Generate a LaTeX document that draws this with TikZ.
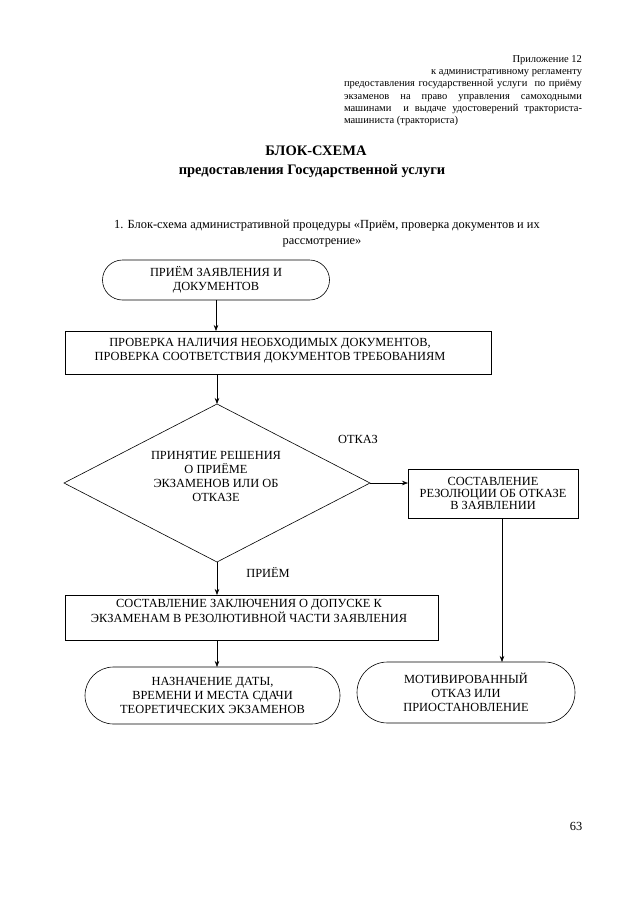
\documentclass[tikz,border=0pt]{standalone}
\usepackage{fontspec}
\setmainfont{Liberation Serif}
\newfontfamily\tnr{Liberation Serif}
\usetikzlibrary{shapes.geometric,shapes.misc,arrows.meta}
\begin{document}
\begin{tikzpicture}[x=1pt,y=-1pt,
  every node/.style={inner sep=0pt,outer sep=0pt},
  boxfont/.style={font=\tnr\fontsize{12.4}{13.8}\selectfont,align=center},
  hdr/.style={font=\tnr\fontsize{10.5}{12}\selectfont,anchor=base east},
  hdrj/.style={font=\tnr\fontsize{10.5}{12}\selectfont,anchor=base west},
  proc/.style={draw,line width=0.6pt,rectangle,boxfont},
  term/.style={draw,line width=0.6pt,rounded rectangle,boxfont},
  dec/.style={draw,line width=0.6pt,diamond,aspect=2,boxfont},
  arr/.style={line width=0.6pt,-{Stealth[length=6pt,width=4.5pt]}},
  lin/.style={line width=0.6pt}]
\useasboundingbox (0,0) rectangle (640,905);
\fill[white] (0,0) rectangle (640,905);
% header
\node[hdr] (h1) at (582,62.5) {Приложение 12};
\node[hdr] (h2) at (582,74.7) {к административному регламенту};
\node[hdrj] (h3) at (344,86.9) {\makebox[238pt][s]{предоставления государственной услуги \ по приёму}};
\node[hdrj] (h4) at (344,99.1) {\makebox[238pt][s]{экзаменов на право управления самоходными}};
\node[hdrj] (h5) at (344,111.3) {\makebox[238pt][s]{машинами \ и выдаче удостоверений тракториста-}};
\node[hdrj] (h6) at (344,123.5) {машиниста (тракториста)};
% title
\node[font=\tnr\fontsize{14.5}{16}\bfseries\selectfont,anchor=base] (t1) at (316,155) {БЛОК-СХЕМА};
\node[font=\tnr\fontsize{14.5}{16}\bfseries\selectfont,anchor=base] (t2) at (312,174) {предоставления Государственной услуги};
\node[font=\tnr\fontsize{12.4}{14}\selectfont,anchor=base] (s1) at (327,228) {1. Блок-схема административной процедуры «Приём, проверка документов и их};
\node[font=\tnr\fontsize{12.4}{14}\selectfont,anchor=base] (s2) at (322,244) {рассмотрение»};
% shapes
\node[term,minimum width=227pt,minimum height=40pt] (a) at (216,280) {ПРИЁМ ЗАЯВЛЕНИЯ И\\ДОКУМЕНТОВ};
\node[proc,minimum width=426pt,minimum height=43pt] (b) at (278,352.5) {};
\node[boxfont] (bt) at (270,351) {ПРОВЕРКА НАЛИЧИЯ НЕОБХОДИМЫХ ДОКУМЕНТОВ,\\ПРОВЕРКА СООТВЕТСТВИЯ ДОКУМЕНТОВ ТРЕБОВАНИЯМ};
\node[dec,minimum width=306pt,minimum height=158pt] (d) at (217,483) {};
\node[boxfont,font=\tnr\fontsize{12.4}{14.3}\selectfont] (dt) at (216,476.5) {ПРИНЯТИЕ РЕШЕНИЯ\\О ПРИЁМЕ\\ЭКЗАМЕНОВ ИЛИ ОБ\\ОТКАЗЕ};
\node[proc,minimum width=170pt,minimum height=49pt,font=\tnr\fontsize{12.4}{12.4}\selectfont] (r) at (493,493.5) {СОСТАВЛЕНИЕ\\РЕЗОЛЮЦИИ ОБ ОТКАЗЕ\\В ЗАЯВЛЕНИИ};
\node[proc,minimum width=373pt,minimum height=45pt] (c) at (251.5,617.5) {};
\node[boxfont,font=\tnr\fontsize{12.4}{14.5}\selectfont] (ct) at (249,611) {СОСТАВЛЕНИЕ ЗАКЛЮЧЕНИЯ О ДОПУСКЕ К\\ЭКЗАМЕНАМ В РЕЗОЛЮТИВНОЙ ЧАСТИ ЗАЯВЛЕНИЯ};
\node[term,minimum width=255pt,minimum height=57pt] (e) at (212.5,695.5) {НАЗНАЧЕНИЕ ДАТЫ,\\ВРЕМЕНИ И МЕСТА СДАЧИ\\ТЕОРЕТИЧЕСКИХ ЭКЗАМЕНОВ};
\node[term,minimum width=218pt,minimum height=61pt] (f) at (466,692.5) {МОТИВИРОВАННЫЙ\\ОТКАЗ ИЛИ\\ПРИОСТАНОВЛЕНИЕ};
% labels
\node[font=\tnr\fontsize{12.4}{14}\selectfont] (lo) at (358,439) {ОТКАЗ};
\node[font=\tnr\fontsize{12.4}{14}\selectfont] (lp) at (268,572) {ПРИЁМ};
\node[font=\tnr\fontsize{12.4}{14}\selectfont] (pg) at (576,826) {63};
% connectors
\draw[arr] (a.south) -- (a.south |- b.north);
\draw[arr] (d.north |- b.south) -- (d.north);
\draw[arr] (d.east) -- (d.east -| r.west);
\draw[arr] (d.south) -- (d.south |- c.north);
\draw[arr] (d.south |- c.south) -- (d.south |- e.north);
\coordinate (rb) at ([xshift=9pt]r.south);
\draw[arr] (rb) -- (rb |- f.north);
\end{tikzpicture}
\end{document}
